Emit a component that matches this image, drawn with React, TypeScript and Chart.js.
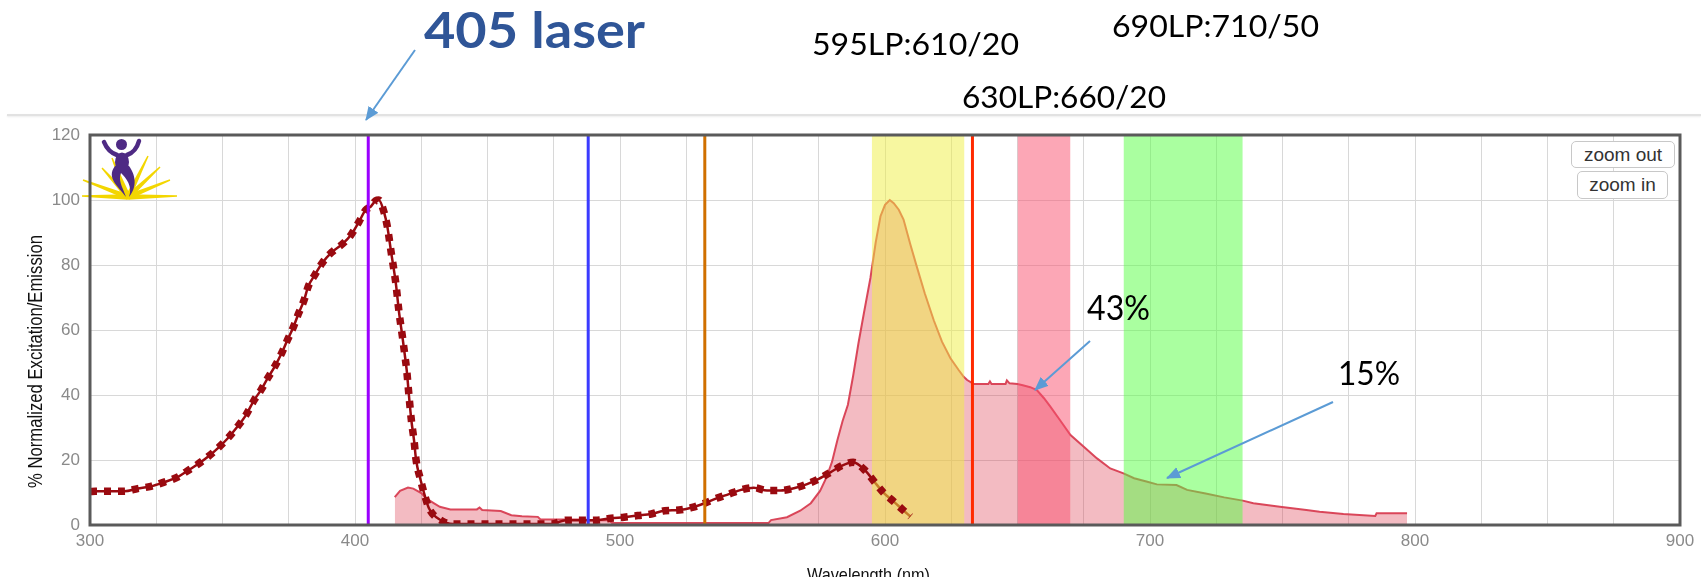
import React, { useEffect, useRef } from "react";
import { Chart, registerables } from "chart.js";

Chart.register(...registerables);

// ---------- data ----------
const excitationNm = [
  300, 302, 307, 313, 318, 323, 328, 333, 336.5, 340.5, 344.5, 348.6, 352, 355.6, 358.6, 362, 364.5, 367,
  369.8, 372.4, 374.5, 376.8, 378.7, 380.8, 382.3, 384.8, 387.7, 391.2, 395.3, 398.6, 401.5, 404, 406,
  407.8, 409, 411, 412.2, 413.7, 415.4, 416.6, 417.9, 418.8, 419.5, 420.4, 421.3, 422.3, 423, 424.8,
  426.5, 428, 432.3, 437, 442, 474, 479.6, 485.7, 491.4, 496.7, 501.5, 506.7, 511.8, 516.8, 522.2,
  527.3, 531.9, 536.4, 541.1, 545.7, 550.5, 555.5, 560.6, 565.6, 570.6, 575, 579.4, 583.8, 588, 592.6,
  596, 599.5, 603.3, 607.1, 609.6,
];
const excitationPct = [
  10.3, 10.4, 10.4, 10.4, 11.2, 11.9, 13.2, 14.7, 16.5, 18.6, 21, 23.9, 26.7, 30.2, 33.5, 38.5, 41.5, 45.1,
  48.9, 53, 56.9, 61, 65.1, 69.2, 73.3, 76.9, 80.7, 83.9, 86.5, 89.4, 93.3, 96.9, 98,
  99.8, 100, 96.1, 91.8, 83.6, 74.4, 65.6, 57.9, 52.3, 47.7, 39.5, 32, 25.9, 20.3, 13.7,
  8.6, 5, 1.5, 0.3, 0.3, 0.3, 1.5, 1.5, 1.5, 2.1, 2.4, 2.9, 3.4, 4.4, 4.6,
  5.4, 6.7, 8.2, 9.5, 10.8, 11.5, 10.6, 10.6, 11.3, 12.6, 14.2, 16.2, 18.3, 19.3, 16.7,
  13.3, 9.9, 7.2, 4.4, 2.6,
];

const emissionNm = [
  415, 417, 420, 422, 425, 427, 430, 432, 436, 446, 447, 448, 455, 459, 463, 469, 470, 487, 488, 496,
  497, 556, 557, 563, 568, 572, 575.5, 578, 580, 582, 584, 586, 588, 590, 592, 594.5, 596.5, 598.3,
  600, 601.8, 603.3, 605.2, 607, 609.6, 612, 615, 618.4, 621.5, 624.7, 627.8, 629.7, 631, 633.5, 639,
  639.6, 640.2, 645.5, 646, 647, 650, 652, 654.8, 657.3, 660, 662.4, 666, 670, 675, 680, 685, 690,
  694, 699, 702.6, 710, 714, 721, 728, 735, 739, 749, 759, 764, 773, 785, 785.5, 797,
];
const emissionPct = [
  8.6, 10.5, 11.5, 11.2, 9.8, 8.1, 6.6, 5.6, 4.8, 4.8, 5.4, 4.6, 4.3, 3, 2.7, 2.5, 1.7, 1.7, 1.5, 1.5,
  0.6, 0.6, 1.5, 2.4, 4.4, 6.7, 10.5, 14.8, 19.4, 26, 32, 37, 46, 56, 65, 76, 87, 95,
  98.5, 100, 99, 97, 94, 86.2, 79.5, 71.3, 63, 56.4, 51.3, 47.7, 45.6, 44.6, 43.4, 43.4,
  44.2, 43.4, 43.4, 44.5, 43.6, 43.4, 43, 42.4, 41.5, 39, 36.4, 32.3, 27.7, 24.1, 20.5, 17.4, 15.9,
  14.4, 13.3, 12.5, 12.3, 10.8, 9.7, 8.5, 7.5, 6.7, 5.6, 4.6, 4.1, 3.4, 2.8, 3.6, 3.6,
];

const laserNm = [405, 488, 532, 633];
const laserColors = ["#9B00FF", "#3B3BFF", "#D07000", "#FF2A00"];

const filterStartNm = [595, 650, 690];
const filterEndNm = [630, 670, 735];
const filterColors = ["rgba(239,239,65,0.5)", "rgba(250,80,110,0.5)", "rgba(85,255,65,0.5)"];

const xLabelValues = [300, 400, 500, 600, 700, 800, 900];
const yTickValues = [0, 20, 40, 60, 80, 100, 120];

// ---------- plugin: frame + logo ----------
const decorPlugin = {
  id: "decor",
  beforeDatasetsDraw(chart: any) {
    const ctx = chart.ctx;
    const a = chart.chartArea;
    const ox = a.left - 90;
    const oy = a.top - 135;
    ctx.save();
    const cx = 128 + ox;
    const cy = 197 + oy;
    const tips = [
      [82, 196], [177, 196], [83, 180], [102, 168], [112, 158], [170, 180], [160, 167], [148, 156],
    ];
    ctx.fillStyle = "#F3D600";
    tips.forEach(([tx, ty]) => {
      const x2 = tx + ox, y2 = ty + oy;
      const dx = x2 - cx, dy = y2 - cy;
      const len = Math.hypot(dx, dy);
      const nx = -dy / len, ny = dx / len;
      ctx.beginPath();
      ctx.moveTo(cx + nx * 2.8, cy + ny * 2.8);
      ctx.lineTo(x2 + nx * 0.7, y2 + ny * 0.7);
      ctx.lineTo(x2 - nx * 0.7, y2 - ny * 0.7);
      ctx.lineTo(cx - nx * 2.8, cy - ny * 2.8);
      ctx.closePath();
      ctx.fill();
    });
    ctx.fillStyle = "#4E2A84";
    ctx.strokeStyle = "#4E2A84";
    ctx.beginPath();
    ctx.arc(121.5 + ox, 144.5 + oy, 5.5, 0, Math.PI * 2);
    ctx.fill();
    ctx.lineWidth = 4.5;
    ctx.lineCap = "round";
    ctx.beginPath();
    ctx.moveTo(104 + ox, 142 + oy);
    ctx.quadraticCurveTo(108 + ox, 152 + oy, 117 + ox, 155 + oy);
    ctx.moveTo(139 + ox, 141 + oy);
    ctx.quadraticCurveTo(136 + ox, 152 + oy, 127 + ox, 155 + oy);
    ctx.stroke();
    ctx.beginPath();
    ctx.ellipse(122 + ox, 162 + oy, 7, 9.5, 0, 0, Math.PI * 2);
    ctx.fill();
    ctx.beginPath();
    ctx.moveTo(115 + ox, 166 + oy);
    ctx.bezierCurveTo(106 + ox, 178 + oy, 118 + ox, 186 + oy, 126 + ox, 197 + oy);
    ctx.bezierCurveTo(122 + ox, 186 + oy, 118 + ox, 180 + oy, 121 + ox, 173 + oy);
    ctx.bezierCurveTo(126 + ox, 178 + oy, 133 + ox, 186 + oy, 129 + ox, 197 + oy);
    ctx.bezierCurveTo(138 + ox, 186 + oy, 135 + ox, 174 + oy, 129 + ox, 166 + oy);
    ctx.closePath();
    ctx.fill();
    ctx.restore();
  },
  afterDraw(chart: any) {
    const ctx = chart.ctx;
    const a = chart.chartArea;
    ctx.save();
    ctx.strokeStyle = "#5a5a5a";
    ctx.lineWidth = 3;
    ctx.strokeRect(a.left, a.top, a.right - a.left, a.bottom - a.top);
    ctx.restore();
  },
};

function pts(xs: number[], ys: number[]) {
  return xs.map((x, i) => ({ x, y: ys[i] }));
}

export default function App() {
  const canvasRef = useRef<HTMLCanvasElement | null>(null);

  useEffect(() => {
    document.body.style.margin = "0";
    const canvas = canvasRef.current;
    if (!canvas) return;

    const datasets: any[] = [];
    datasets.push({
      label: "Emission",
      data: pts(emissionNm, emissionPct),
      borderColor: "rgba(216,62,82,0.95)",
      backgroundColor: "rgba(220,60,80,0.35)",
      borderWidth: 2,
      pointRadius: 0,
      fill: "origin",
      tension: 0,
      order: 10,
    });
    datasets.push({
      label: "Excitation line",
      data: pts(excitationNm, excitationPct),
      borderColor: "#9A0A10",
      borderWidth: 2.5,
      pointRadius: 0,
      fill: false,
      cubicInterpolationMode: "monotone",
      order: 9,
    });
    filterStartNm.forEach((s, i) => {
      datasets.push({
        label: "Filter " + i,
        data: [
          { x: s, y: 120 },
          { x: filterEndNm[i], y: 120 },
        ],
        borderWidth: 0,
        borderColor: "rgba(0,0,0,0)",
        backgroundColor: filterColors[i],
        pointRadius: 0,
        fill: "origin",
        order: 5,
      });
    });
    datasets.push({
      label: "Excitation",
      data: pts(excitationNm, excitationPct),
      borderColor: "#9A0A10",
      borderWidth: 7.5,
      borderDash: [7, 7],
      borderCapStyle: "butt",
      pointRadius: 0,
      fill: false,
      cubicInterpolationMode: "monotone",
      order: 2,
    });
    laserNm.forEach((l, i) => {
      datasets.push({
        label: "Laser " + l,
        data: [
          { x: l, y: 0 },
          { x: l, y: 120 },
        ],
        borderColor: laserColors[i],
        borderWidth: 3,
        pointRadius: 0,
        fill: false,
        order: 1,
      });
    });

    const chart = new Chart(canvas, {
      type: "line",
      data: { datasets },
      plugins: [decorPlugin],
      options: {
        animation: false,
        responsive: false,
        devicePixelRatio: 1,
        layout: { padding: { left: 0, top: 135, right: 21, bottom: 0 } },
        plugins: { legend: { display: false }, tooltip: { enabled: false } },
        scales: {
          x: {
            type: "linear",
            min: 300,
            max: 900,
            afterFit: (scale: any) => {
              scale.height = 61;
            },
            grid: { color: "#d8d8d8", lineWidth: 1, drawTicks: false },
            border: { display: false },
            ticks: {
              stepSize: 25,
              autoSkip: false,
              maxRotation: 0,
              padding: 6,
              color: "#8a8a8a",
              font: { family: "Liberation Sans", size: 17 },
              callback: (v: any) => (xLabelValues.includes(Number(v)) ? String(v) : ""),
            },
          },
          y: {
            type: "linear",
            min: 0,
            max: 120,
            afterFit: (scale: any) => {
              scale.width = 90;
            },
            grid: { color: "#d8d8d8", lineWidth: 1, drawTicks: false },
            border: { display: false },
            ticks: {
              stepSize: 20,
              padding: 10,
              color: "#8a8a8a",
              font: { family: "Liberation Sans", size: 17 },
              callback: (v: any) => (yTickValues.includes(Number(v)) ? String(v) : ""),
            },
          },
        },
      } as any,
    });
    return () => chart.destroy();
  }, []);

  const arrow = "#5B9BD5";
  const sans = "'Liberation Sans', Arial, sans-serif";
  return (
    <div style={{ position: "relative", width: 1701, height: 586, overflow: "hidden", background: "#fff" }}>
      <div
        style={{
          position: "absolute",
          left: 7,
          top: 114,
          width: 1694,
          height: 2,
          background: "#e2e2e2",
          boxShadow: "0 1px 2px rgba(0,0,0,0.08)",
        }}
      />
      <canvas ref={canvasRef} width={1701} height={586} style={{ position: "absolute", left: 0, top: 0, width: 1701, height: 586 }} />
      <svg width={1701} height={586} style={{ position: "absolute", left: 0, top: 0, pointerEvents: "none" }}>
        <defs>
          <marker id="ah" markerWidth="14" markerHeight="12" refX="13" refY="6" orient="auto" markerUnits="userSpaceOnUse">
            <path d="M0,0 L14,6 L0,12 z" fill={arrow} />
          </marker>
        </defs>
        <text x={424} y={48} fontFamily="Lato" fontWeight={700} fontSize={50} fill="#2F5597" textLength={221} lengthAdjust="spacingAndGlyphs">
          405 laser
        </text>
        <line x1={415} y1={50} x2={366} y2={120} stroke={arrow} strokeWidth={2} markerEnd="url(#ah)" />
        <text x={812} y={55} fontFamily="Lato" fontSize={31} fill="#000" textLength={207} lengthAdjust="spacingAndGlyphs">
          595LP:610/20
        </text>
        <text x={1112} y={37} fontFamily="Lato" fontSize={31} fill="#000" textLength={207} lengthAdjust="spacingAndGlyphs">
          690LP:710/50
        </text>
        <text x={962} y={108} fontFamily="Lato" fontSize={31} fill="#000" textLength={204} lengthAdjust="spacingAndGlyphs">
          630LP:660/20
        </text>
        <text x={1087} y={320} fontFamily="Lato" fontSize={34} fill="#000" textLength={63} lengthAdjust="spacingAndGlyphs">
          43%
        </text>
        <line x1={1090} y1={341} x2={1035} y2={390} stroke={arrow} strokeWidth={2} markerEnd="url(#ah)" />
        <text x={1338} y={385} fontFamily="Lato" fontSize={33} fill="#000" textLength={62} lengthAdjust="spacingAndGlyphs">
          15%
        </text>
        <line x1={1333} y1={402} x2={1167} y2={478} stroke={arrow} strokeWidth={2} markerEnd="url(#ah)" />
        <text
          transform="translate(42,361.5) rotate(-90)"
          textAnchor="middle"
          fontFamily={sans}
          fontSize={20}
          fill="#111"
          textLength={253}
          lengthAdjust="spacingAndGlyphs"
        >
          % Normalized Excitation/Emission
        </text>
        <text x={868.5} y={581} textAnchor="middle" fontFamily={sans} fontSize={18.5} fill="#111" textLength={123} lengthAdjust="spacingAndGlyphs">
          Wavelength (nm)
        </text>
        <rect x={0} y={577} width={1701} height={9} fill="#fff" />
      </svg>
      <div
        style={{
          position: "absolute",
          left: 1571,
          top: 141,
          width: 104,
          height: 27,
          boxSizing: "border-box",
          border: "1px solid #c8c8c8",
          borderRadius: 5,
          background: "#fff",
          fontFamily: sans,
          fontSize: 19,
          color: "#333",
          textAlign: "center",
          lineHeight: "25px",
        }}
      >
        zoom out
      </div>
      <div
        style={{
          position: "absolute",
          left: 1577,
          top: 171,
          width: 91,
          height: 28,
          boxSizing: "border-box",
          border: "1px solid #c8c8c8",
          borderRadius: 5,
          background: "#fff",
          fontFamily: sans,
          fontSize: 19,
          color: "#333",
          textAlign: "center",
          lineHeight: "26px",
        }}
      >
        zoom in
      </div>
    </div>
  );
}
